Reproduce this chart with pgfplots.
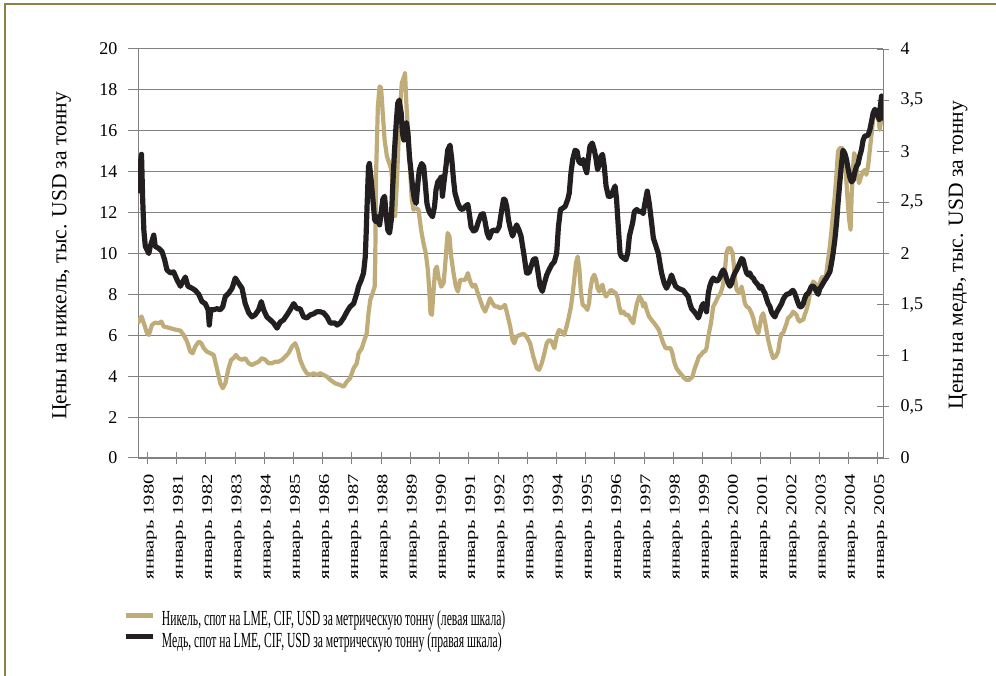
\documentclass[border=0pt]{standalone}
\usepackage{fontspec}
\setmainfont{Liberation Serif}
\usepackage{graphicx}
\usepackage{pgfplots}
\pgfplotsset{compat=1.18}
\usepackage{pgfplotstable}
\pgfkeys{/pgf/number format/assume math mode=true}

\definecolor{nickel}{RGB}{192,172,120}
\definecolor{copper}{RGB}{35,31,32}
\definecolor{framecol}{RGB}{140,130,70}
\definecolor{gridgray}{RGB}{130,130,130}

% Nickel, LME spot, thousand USD per tonne (left scale)
\pgfplotstableread{
t v
1979.68 6.59
1979.80 6.92
1979.88 6.59
1979.99 6.10
1980.05 6.02
1980.16 6.51
1980.27 6.62
1980.39 6.59
1980.48 6.67
1980.56 6.43
1980.67 6.39
1980.79 6.35
1980.90 6.30
1981.02 6.26
1981.13 6.23
1981.24 6.02
1981.36 5.69
1981.47 5.20
1981.55 5.12
1981.64 5.45
1981.76 5.69
1981.85 5.61
1981.93 5.37
1982.04 5.20
1982.16 5.12
1982.27 5.04
1982.38 4.39
1982.50 3.65
1982.58 3.41
1982.67 3.65
1982.78 4.39
1982.87 4.80
1982.95 4.88
1983.03 5.04
1983.12 4.88
1983.24 4.80
1983.35 4.88
1983.47 4.63
1983.58 4.55
1983.69 4.63
1983.81 4.71
1983.92 4.88
1984.04 4.80
1984.15 4.63
1984.26 4.63
1984.38 4.71
1984.49 4.71
1984.61 4.80
1984.72 4.96
1984.83 5.12
1984.95 5.45
1985.06 5.61
1985.15 5.29
1985.23 4.80
1985.35 4.39
1985.46 4.14
1985.58 4.06
1985.69 4.14
1985.80 4.06
1985.92 4.14
1986.03 4.06
1986.15 3.98
1986.26 3.82
1986.43 3.65
1986.60 3.57
1986.72 3.49
1986.83 3.74
1986.94 3.90
1987.06 4.39
1987.17 4.63
1987.23 5.12
1987.34 5.37
1987.43 5.77
1987.51 6.10
1987.57 7.08
1987.63 7.73
1987.71 8.06
1987.78 8.38
1987.80 9.69
1987.83 13.93
1987.89 17.19
1987.95 18.17
1988.00 18.09
1988.05 17.03
1988.12 15.56
1988.20 14.75
1988.28 14.42
1988.35 14.09
1988.43 12.63
1988.48 11.81
1988.54 13.44
1988.60 15.56
1988.65 17.19
1988.71 18.34
1988.79 18.66
1988.82 18.83
1988.87 17.19
1988.94 15.56
1989.00 13.93
1989.05 12.63
1989.11 12.14
1989.19 12.22
1989.28 12.14
1989.37 11.16
1989.45 10.51
1989.53 10.02
1989.60 9.20
1989.65 8.22
1989.69 7.08
1989.74 7.00
1989.79 8.06
1989.85 9.20
1989.91 9.36
1989.96 8.87
1990.06 8.38
1990.14 8.55
1990.19 9.36
1990.25 10.51
1990.28 11.00
1990.34 10.83
1990.40 9.85
1990.48 9.04
1990.56 8.38
1990.63 8.14
1990.71 8.71
1990.79 8.71
1990.88 8.71
1990.97 9.04
1991.05 8.63
1991.13 8.38
1991.22 8.47
1991.31 8.06
1991.39 7.73
1991.47 7.41
1991.56 7.16
1991.65 7.49
1991.73 7.81
1991.81 7.57
1991.90 7.41
1991.99 7.41
1992.07 7.32
1992.19 7.41
1992.24 7.49
1992.34 6.92
1992.42 6.43
1992.50 5.77
1992.56 5.61
1992.64 5.94
1992.76 6.02
1992.87 6.07
1992.98 5.94
1993.10 5.61
1993.21 4.96
1993.33 4.39
1993.41 4.31
1993.50 4.63
1993.59 5.12
1993.67 5.61
1993.75 5.77
1993.84 5.69
1993.93 5.37
1994.01 5.94
1994.09 6.26
1994.18 6.18
1994.27 6.02
1994.35 6.43
1994.43 6.92
1994.50 7.41
1994.56 8.06
1994.61 8.71
1994.67 9.53
1994.73 9.85
1994.79 9.20
1994.84 8.06
1994.90 7.49
1994.98 7.41
1995.06 7.24
1995.12 7.57
1995.16 8.22
1995.23 8.79
1995.30 8.96
1995.36 8.71
1995.41 8.30
1995.47 8.14
1995.53 8.38
1995.58 8.47
1995.64 8.06
1995.70 7.90
1995.78 8.06
1995.87 8.22
1995.95 8.14
1996.03 8.06
1996.10 7.81
1996.15 7.41
1996.21 7.08
1996.29 7.16
1996.37 7.00
1996.46 7.00
1996.55 6.75
1996.63 6.59
1996.69 7.08
1996.76 7.57
1996.84 7.90
1996.92 7.73
1996.97 7.41
1997.03 7.57
1997.09 7.24
1997.17 6.92
1997.26 6.75
1997.35 6.59
1997.43 6.43
1997.51 6.26
1997.58 5.94
1997.66 5.61
1997.74 5.37
1997.83 5.37
1997.91 5.37
1997.97 5.12
1998.03 4.71
1998.11 4.39
1998.19 4.23
1998.29 4.06
1998.38 3.90
1998.46 3.82
1998.54 3.82
1998.60 3.90
1998.66 3.98
1998.72 4.31
1998.80 4.63
1998.88 4.96
1998.95 5.04
1999.03 5.20
1999.08 5.20
1999.14 5.37
1999.20 5.94
1999.29 6.59
1999.37 7.41
1999.46 7.65
1999.54 7.90
1999.62 8.06
1999.69 8.38
1999.73 8.71
1999.78 9.36
1999.82 10.02
1999.88 10.26
1999.96 10.26
2000.03 10.02
2000.08 9.36
2000.12 8.71
2000.17 8.22
2000.22 8.14
2000.28 8.06
2000.34 8.38
2000.39 8.06
2000.45 7.57
2000.51 7.41
2000.60 7.32
2000.68 7.08
2000.74 6.84
2000.79 6.51
2000.85 6.26
2000.91 6.10
2000.96 6.43
2001.02 6.92
2001.08 7.08
2001.14 6.67
2001.19 6.26
2001.25 5.77
2001.33 5.29
2001.42 4.88
2001.51 4.96
2001.59 5.20
2001.65 5.77
2001.71 6.10
2001.76 6.10
2001.82 6.35
2001.88 6.59
2001.93 6.84
2001.99 6.92
2002.05 7.00
2002.10 7.16
2002.16 7.08
2002.22 7.00
2002.28 6.75
2002.33 6.67
2002.39 6.75
2002.45 6.75
2002.50 7.00
2002.56 7.24
2002.62 7.57
2002.67 7.98
2002.73 8.38
2002.79 8.63
2002.85 8.55
2002.90 8.38
2002.96 8.38
2003.02 8.55
2003.07 8.79
2003.13 8.87
2003.19 8.79
2003.24 9.04
2003.30 9.69
2003.36 10.34
2003.42 11.16
2003.47 11.97
2003.53 12.79
2003.59 13.93
2003.64 14.99
2003.70 15.15
2003.79 15.15
2003.85 14.75
2003.91 13.93
2003.96 12.79
2004.02 11.65
2004.07 11.16
2004.11 12.95
2004.16 14.26
2004.19 14.91
2004.24 14.67
2004.29 13.93
2004.36 13.44
2004.43 13.77
2004.50 14.01
2004.57 14.09
2004.61 13.85
2004.67 14.26
2004.73 15.07
2004.78 15.73
2004.84 16.54
2004.91 16.95
2004.98 17.03
2005.03 16.54
2005.07 16.05
2005.10 16.38
2005.14 16.70
2005.17 17.20
}\nickeldata

% Copper, LME spot, thousand USD per tonne (right scale)
\pgfplotstableread{
t v
1979.68 2.59
1979.73 2.82
1979.80 2.97
1979.84 2.53
1979.88 2.23
1979.93 2.07
1980.05 2.00
1980.10 2.07
1980.22 2.18
1980.27 2.07
1980.39 2.05
1980.50 2.02
1980.59 1.94
1980.67 1.84
1980.79 1.81
1980.90 1.82
1981.02 1.74
1981.13 1.68
1981.30 1.77
1981.39 1.68
1981.53 1.66
1981.64 1.64
1981.76 1.60
1981.87 1.53
1981.98 1.51
1982.08 1.45
1982.12 1.30
1982.17 1.45
1982.27 1.45
1982.38 1.46
1982.50 1.45
1982.58 1.48
1982.67 1.58
1982.78 1.61
1982.90 1.66
1983.01 1.76
1983.12 1.71
1983.24 1.66
1983.35 1.51
1983.47 1.42
1983.58 1.38
1983.69 1.40
1983.81 1.45
1983.90 1.53
1983.98 1.45
1984.09 1.38
1984.21 1.35
1984.32 1.32
1984.44 1.27
1984.55 1.33
1984.66 1.35
1984.78 1.40
1984.89 1.45
1985.01 1.51
1985.12 1.46
1985.23 1.46
1985.35 1.38
1985.46 1.37
1985.58 1.40
1985.69 1.41
1985.80 1.43
1985.92 1.43
1986.03 1.42
1986.15 1.38
1986.26 1.32
1986.43 1.32
1986.49 1.30
1986.60 1.32
1986.72 1.37
1986.83 1.43
1986.94 1.48
1987.06 1.51
1987.17 1.61
1987.23 1.68
1987.32 1.74
1987.40 1.81
1987.46 1.97
1987.49 2.20
1987.52 2.46
1987.57 2.85
1987.60 2.88
1987.66 2.72
1987.72 2.53
1987.78 2.33
1987.83 2.31
1987.89 2.36
1987.95 2.28
1988.00 2.39
1988.06 2.53
1988.12 2.56
1988.17 2.39
1988.23 2.23
1988.29 2.20
1988.35 2.33
1988.40 2.66
1988.46 3.01
1988.52 3.28
1988.57 3.47
1988.62 3.50
1988.69 3.37
1988.73 3.18
1988.78 3.11
1988.82 3.24
1988.87 3.28
1988.92 3.18
1988.97 2.95
1989.03 2.79
1989.09 2.62
1989.14 2.53
1989.20 2.49
1989.26 2.69
1989.31 2.82
1989.39 2.88
1989.46 2.85
1989.51 2.69
1989.57 2.49
1989.62 2.43
1989.68 2.39
1989.76 2.36
1989.83 2.46
1989.88 2.62
1989.94 2.70
1990.00 2.72
1990.06 2.75
1990.10 2.56
1990.15 2.69
1990.22 2.85
1990.28 3.01
1990.36 3.06
1990.42 2.92
1990.48 2.72
1990.53 2.59
1990.63 2.49
1990.71 2.44
1990.79 2.43
1990.88 2.46
1990.97 2.48
1991.02 2.39
1991.08 2.26
1991.16 2.22
1991.24 2.23
1991.33 2.31
1991.42 2.38
1991.50 2.39
1991.56 2.31
1991.63 2.20
1991.70 2.15
1991.79 2.22
1991.88 2.23
1991.96 2.22
1992.04 2.26
1992.11 2.39
1992.19 2.53
1992.24 2.53
1992.30 2.46
1992.36 2.33
1992.42 2.25
1992.50 2.17
1992.56 2.22
1992.64 2.28
1992.72 2.23
1992.79 2.17
1992.90 1.97
1992.98 1.81
1993.06 1.81
1993.13 1.87
1993.21 1.94
1993.29 1.95
1993.36 1.84
1993.44 1.68
1993.52 1.63
1993.59 1.71
1993.67 1.79
1993.75 1.84
1993.84 1.89
1993.93 1.92
1994.01 2.00
1994.07 2.26
1994.14 2.43
1994.20 2.44
1994.30 2.46
1994.39 2.53
1994.44 2.59
1994.50 2.79
1994.56 2.92
1994.64 3.01
1994.71 3.00
1994.77 2.90
1994.84 2.88
1994.92 2.92
1994.98 2.84
1995.04 2.79
1995.09 2.92
1995.15 3.05
1995.23 3.08
1995.30 3.01
1995.36 2.92
1995.41 2.82
1995.47 2.87
1995.53 2.95
1995.58 2.97
1995.64 2.85
1995.70 2.66
1995.78 2.56
1995.87 2.56
1995.95 2.62
1996.01 2.66
1996.06 2.53
1996.12 2.26
1996.18 2.00
1996.23 1.97
1996.32 1.95
1996.38 1.94
1996.44 2.00
1996.50 2.17
1996.55 2.23
1996.61 2.30
1996.67 2.41
1996.75 2.43
1996.83 2.41
1996.92 2.41
1996.97 2.39
1997.03 2.49
1997.11 2.61
1997.18 2.49
1997.26 2.30
1997.32 2.15
1997.40 2.08
1997.49 2.00
1997.54 1.91
1997.60 1.81
1997.69 1.71
1997.77 1.66
1997.85 1.71
1997.94 1.79
1998.00 1.74
1998.08 1.68
1998.17 1.66
1998.25 1.65
1998.34 1.64
1998.42 1.61
1998.51 1.58
1998.57 1.51
1998.63 1.46
1998.72 1.43
1998.80 1.40
1998.86 1.37
1998.92 1.42
1998.97 1.48
1999.03 1.51
1999.08 1.48
1999.14 1.43
1999.20 1.61
1999.25 1.68
1999.31 1.73
1999.37 1.76
1999.43 1.74
1999.48 1.73
1999.54 1.74
1999.60 1.77
1999.65 1.81
1999.71 1.84
1999.77 1.81
1999.82 1.76
1999.88 1.71
1999.94 1.68
2000.00 1.71
2000.05 1.77
2000.11 1.81
2000.17 1.84
2000.22 1.87
2000.28 1.91
2000.34 1.95
2000.39 1.94
2000.45 1.87
2000.51 1.81
2000.57 1.79
2000.62 1.81
2000.68 1.77
2000.74 1.76
2000.79 1.73
2000.85 1.71
2000.91 1.69
2000.96 1.66
2001.02 1.68
2001.08 1.64
2001.14 1.61
2001.19 1.56
2001.25 1.51
2001.31 1.48
2001.36 1.43
2001.42 1.40
2001.48 1.38
2001.53 1.42
2001.59 1.45
2001.65 1.48
2001.71 1.51
2001.76 1.55
2001.82 1.58
2001.88 1.60
2001.99 1.61
2002.05 1.63
2002.10 1.64
2002.16 1.61
2002.22 1.56
2002.28 1.51
2002.33 1.48
2002.39 1.48
2002.45 1.51
2002.50 1.56
2002.56 1.60
2002.62 1.61
2002.67 1.64
2002.73 1.68
2002.79 1.68
2002.85 1.66
2002.90 1.63
2002.96 1.60
2003.02 1.66
2003.07 1.68
2003.13 1.71
2003.19 1.74
2003.24 1.76
2003.30 1.79
2003.36 1.82
2003.42 1.91
2003.47 2.00
2003.53 2.13
2003.59 2.30
2003.64 2.49
2003.70 2.69
2003.76 2.88
2003.81 3.01
2003.87 2.98
2003.93 2.92
2003.99 2.82
2004.04 2.75
2004.10 2.70
2004.16 2.72
2004.21 2.79
2004.27 2.85
2004.33 2.88
2004.38 2.95
2004.44 3.01
2004.50 3.11
2004.56 3.15
2004.61 3.15
2004.67 3.16
2004.73 3.21
2004.78 3.28
2004.84 3.37
2004.90 3.41
2004.95 3.39
2005.01 3.34
2005.05 3.31
2005.09 3.44
2005.13 3.54
2005.16 3.30
}\copperdata

\begin{document}
\begin{tikzpicture}
\useasboundingbox (0,0) rectangle (996pt,675pt);
\fill[white] (0,0) rectangle (996pt,675pt);
\begin{scope}
\clip (0,0) rectangle (996pt,675pt);
\draw[framecol, line width=2pt] (5pt,-20pt) -- (5pt,670.5pt) -- (1020pt,670.5pt);
\end{scope}

% left axis: nickel
\begin{axis}[
  at={(138pt,217pt)}, anchor=south west,
  scale only axis, width=745pt, height=409pt,
  xmin=1979.68, xmax=2005.18, ymin=0, ymax=20,
  axis y line*=left, axis x line*=bottom,
  axis line style={gridgray, line width=1pt},
  xtick=\empty,
  ytick={0,2,...,20},
  ymajorgrids, grid style={gridgray, line width=1pt},
  tick align=outside, major tick length=10pt,
  tick style={gridgray, line width=1pt},
  yticklabel style={xshift=-7pt, font=\fontsize{18}{18}\selectfont, text=black},
  ylabel={Цены на никель, тыс. USD за тонну},
  ylabel style={at={(axis description cs:-0.1027,0.494)}, anchor=center,
    font=\fontsize{21.5}{22}\selectfont},
]
\addplot[nickel, line width=4.2pt, line join=round] table[x=t,y=v] {\nickeldata};
\end{axis}

% right axis: copper
\begin{axis}[
  at={(138pt,217pt)}, anchor=south west,
  scale only axis, width=745pt, height=409pt,
  xmin=1979.68, xmax=2005.18, ymin=0, ymax=4,
  axis y line*=right, axis x line*=bottom,
  axis line style={gridgray, line width=1pt},
  xtick={1979,...,2006}, minor x tick num=11,
  scaled x ticks=false,
  ytick={0,0.5,...,4},
  tick align=center, major tick length=12pt, minor tick length=11pt,
  tick style={gridgray, line width=0.8pt},
  xticklabel={\scalebox{1.37}[1]{январь \pgfmathprintnumber[fixed,precision=0,1000 sep={}]{\tick}}},
  xticklabel style={xshift=3pt, yshift=-10pt, rotate=90, anchor=east, inner sep=0pt,
    font=\fontsize{15}{16}\selectfont, text=black},
  yticklabel style={xshift=8pt, font=\fontsize{18}{18}\selectfont, text=black,
    /pgf/number format/.cd, use comma, fixed},
  ylabel={Цены на медь, тыс. USD за тонну},
  ylabel style={at={(axis description cs:1.1007,0.496)}, anchor=center,
    font=\fontsize{21.5}{22}\selectfont},
  legend style={at={(axis description cs:-0.0201,-0.373)}, anchor=north west,
    draw=none, fill=none, inner sep=0pt, column sep=7pt, row sep=5pt,
    nodes={inner sep=0pt}, font=\fontsize{21.5}{22}\selectfont},
  legend cell align=left,
  legend image code/.code={\draw[#1, line width=4.7pt] (0pt,3.8pt) -- (27pt,3.8pt);},
]
\addlegendimage{nickel}
\addlegendentry{\scalebox{0.542}[1]{Никель, спот на LME, CIF, USD за метрическую тонну (левая шкала)}}
\addplot[copper, line width=5.2pt, line join=round] table[x=t,y=v] {\copperdata};
\addlegendentry{\scalebox{0.542}[1]{Медь, спот на LME, CIF, USD за метрическую тонну (правая шкала)}}
\end{axis}
\end{tikzpicture}
\end{document}
